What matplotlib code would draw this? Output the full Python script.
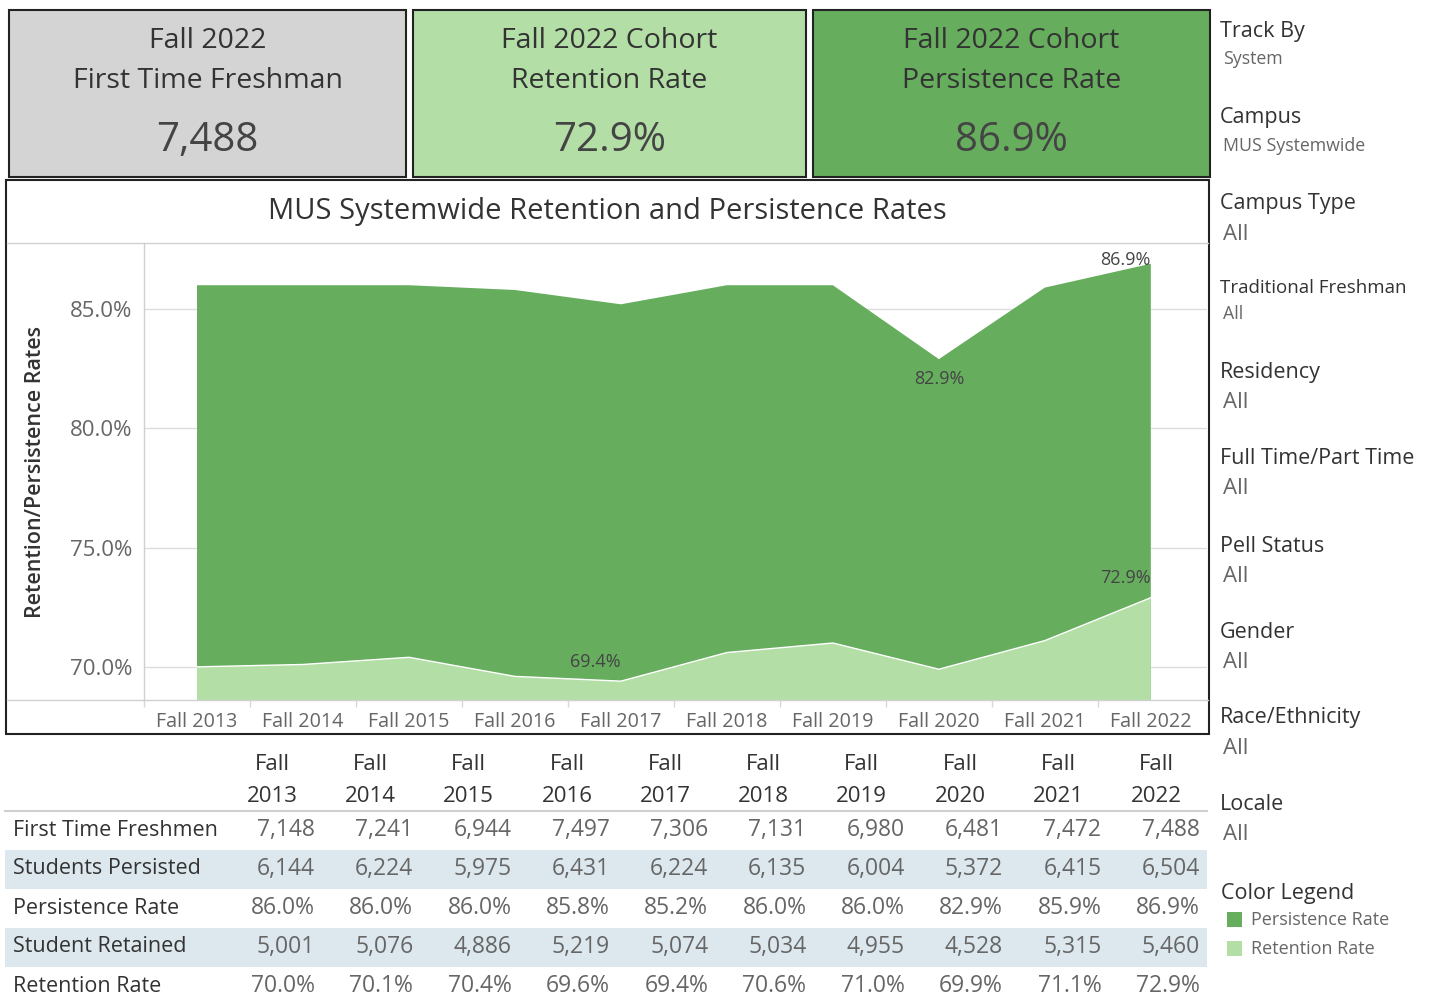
import matplotlib
matplotlib.use("Agg")
import matplotlib.pyplot as plt
from matplotlib.patches import Rectangle
from matplotlib.lines import Line2D

plt.rcParams['font.family'] = ['Open Sans', 'DejaVu Sans']

W, H = 1436, 1001

# data
years = ["Fall 2013", "Fall 2014", "Fall 2015", "Fall 2016", "Fall 2017",
         "Fall 2018", "Fall 2019", "Fall 2020", "Fall 2021", "Fall 2022"]
first_time = [7148, 7241, 6944, 7497, 7306, 7131, 6980, 6481, 7472, 7488]
persisted = [6144, 6224, 5975, 6431, 6224, 6135, 6004, 5372, 6415, 6504]
persistence = [86.0, 86.0, 86.0, 85.8, 85.2, 86.0, 86.0, 82.9, 85.9, 86.9]
retained = [5001, 5076, 4886, 5219, 5074, 5034, 4955, 4528, 5315, 5460]
retention = [70.0, 70.1, 70.4, 69.6, 69.4, 70.6, 71.0, 69.9, 71.1, 72.9]
yticks = [70.0, 75.0, 80.0, 85.0]

kpi_titles = ["Fall 2022\nFirst Time Freshman",
              "Fall 2022 Cohort\nRetention Rate",
              "Fall 2022 Cohort\nPersistence Rate"]
kpi_values = ["7,488", "72.9%", "86.9%"]

filters = [("Track By", "System"), ("Campus", "MUS Systemwide"),
           ("Campus Type", "All"), ("Traditional Freshman", "All"),
           ("Residency", "All"), ("Full Time/Part Time", "All"),
           ("Pell Status", "All"), ("Gender", "All"),
           ("Race/Ethnicity", "All"), ("Locale", "All")]

DARK = "#66ad5e"
LIGHT = "#b3dfa6"
GREY_BOX = "#d4d4d4"
TXT = "#333333"
MUTED = "#666666"
STRIPE = "#dce8ee"


def fx(x):
    return x / W


def fy(y):
    return 1 - y / H


def rect(x0, y0, x1, y1, fc, ec="none", lw=0, z=1):
    fig.add_artist(Rectangle((fx(x0), fy(y1)), fx(x1 - x0), (y1 - y0) / H,
                             transform=fig.transFigure, facecolor=fc,
                             edgecolor=ec, linewidth=lw, zorder=z))


def line(x0, x1, y0, y1, color="#d0d0d0", lw=1.0):
    fig.add_artist(Line2D([fx(x0), fx(x1)], [fy(y0), fy(y1)],
                          transform=fig.transFigure, color=color, lw=lw, zorder=5))


fig = plt.figure(figsize=(W / 100, H / 100), dpi=100)

# KPI boxes
boxes = [(9, 406, GREY_BOX), (413, 806, LIGHT), (813, 1210, DARK)]
for (x0, x1, c), t, v in zip(boxes, kpi_titles, kpi_values):
    rect(x0, 10, x1, 177, c, ec="#222222", lw=1.5)
    cx = (x0 + x1) / 2
    l1, l2 = t.split("\n")
    fig.text(fx(cx), fy(41), l1, ha="center", va="center", fontsize=20.5, color=TXT)
    fig.text(fx(cx), fy(81), l2, ha="center", va="center", fontsize=20.5, color=TXT)
    fig.text(fx(cx), fy(141), v, ha="center", va="center", fontsize=29, color="#444444")

# chart panel
rect(6, 180, 1209, 734, "white", ec="#222222", lw=1.5, z=-1)
fig.text(fx(607), fy(212), "MUS Systemwide Retention and Persistence Rates",
         ha="center", va="center", fontsize=21, color=TXT)
line(7, 1208, 243, 243)

ax = fig.add_axes([fx(144), fy(700), fx(1207 - 144), (700 - 243) / H])
ax.patch.set_alpha(0)
x = list(range(len(years)))
ax.fill_between(x, 0, persistence, color=DARK, lw=0, zorder=2)
ax.fill_between(x, 0, retention, color=LIGHT, lw=0, zorder=3)
ax.plot(x, retention, color="white", lw=1.0, zorder=4)
ax.set_xlim(-0.5, 9.53)
ax.set_ylim(68.61, 87.77)
ax.set_yticks(yticks)
ax.set_yticklabels([f"{v:.1f}%" for v in yticks])
ax.set_xticks(x)
ax.set_xticklabels(years)
ax.set_xticks([i - 0.5 for i in range(len(years))], minor=True)
ax.tick_params(axis="y", length=0, pad=8.5, labelsize=16, labelcolor=MUTED)
ax.tick_params(axis="x", which="major", length=0, pad=8.5, labelsize=14.2, labelcolor=MUTED)
ax.tick_params(axis="x", which="minor", length=5, width=1, color="#d8d8d8")
ax.grid(axis="y", color="#dddddd", lw=1.0, zorder=0)
ax.set_axisbelow(True)
for s in ["top", "right", "bottom", "left"]:
    ax.spines[s].set_visible(False)
ax.set_ylabel("Retention/Persistence Rates", fontsize=15.5, color=TXT,
              fontweight="semibold")
ax.yaxis.set_label_coords((46 - 144) / (1207 - 144), 0.5)
line(7, 1208, 700, 700)
line(144, 144, 243, 700)

# data labels
lab = dict(textcoords="offset points", fontsize=13, color="#444444")
ax.annotate(f"{persistence[9]:.1f}%", (9, persistence[9]), xytext=(0, -1),
            ha="right", va="baseline", **lab)
ax.annotate(f"{persistence[7]:.1f}%", (7, persistence[7]), xytext=(0, -14.5),
            ha="center", va="center", **lab)
ax.annotate(f"{retention[9]:.1f}%", (9, retention[9]), xytext=(0, 14.5),
            ha="right", va="center", **lab)
ax.annotate(f"{retention[4]:.1f}%", (4, retention[4]), xytext=(0, 14),
            ha="right", va="center", **lab)

# table
col_right = [315 + 98.3 * i for i in range(10)]
for i, yr in enumerate(years):
    cx = col_right[i] - 43
    f, y_ = yr.split()
    fig.text(fx(cx), fy(764), f, ha="center", va="center", fontsize=16, color=TXT)
    fig.text(fx(cx), fy(796), y_, ha="center", va="center", fontsize=16, color=TXT)
line(5, 1207, 811, 811, color="#d0d0d0", lw=1.5)

rows = [("First Time Freshmen", [f"{v:,}" for v in first_time]),
        ("Students Persisted", [f"{v:,}" for v in persisted]),
        ("Persistence Rate", [f"{v:.1f}%" for v in persistence]),
        ("Student Retained", [f"{v:,}" for v in retained]),
        ("Retention Rate", [f"{v:.1f}%" for v in retention])]
row_y = [830, 869, 908, 947, 986]
for k, ((label, vals), ry) in enumerate(zip(rows, row_y)):
    if k % 2 == 1:
        rect(5, ry - 19.5, 1207, ry + 19.5, STRIPE)
    fig.text(fx(13), fy(ry), label, ha="left", va="center", fontsize=15.5, color=TXT)
    for cr, v in zip(col_right, vals):
        fig.text(fx(cr), fy(ry), v, ha="right", va="center", fontsize=16.5, color=MUTED)

# filter sidebar
fy_title = [31, 118, 204, 288, 373, 459, 546, 632, 718, 805]
fy_val = [59, 146, 235, 314, 403, 489, 576, 662, 749, 835]
for (name, val), ty, vy in zip(filters, fy_title, fy_val):
    small = name in ("Track By", "Campus", "Traditional Freshman")
    fig.text(fx(1220), fy(ty), name, ha="left", va="center",
             fontsize=13.5 if name == "Traditional Freshman" else 15.5, color=TXT)
    fig.text(fx(1223), fy(vy), val, ha="left", va="center",
             fontsize=12.8 if small else 16, color=MUTED)

fig.text(fx(1221), fy(893), "Color Legend", ha="left", va="center", fontsize=15.5, color=TXT)
for name, c, ly in [("Persistence Rate", DARK, 920), ("Retention Rate", LIGHT, 949)]:
    rect(1227, ly - 8, 1242, ly + 7, c)
    fig.text(fx(1251), fy(ly), name, ha="left", va="center", fontsize=13, color=MUTED)

fig.savefig("out.png", dpi=100)
